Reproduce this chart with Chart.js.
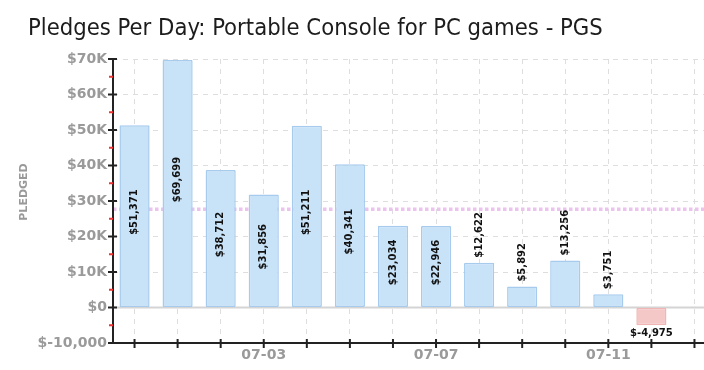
<!DOCTYPE html>
<html>
<head>
<meta charset="utf-8">
<script src="https://cdn.jsdelivr.net/npm/chart.js@4"></script>
<style>
  html, body { margin: 0; padding: 0; background: #fff; overflow: hidden; width: 704px; height: 370px; }
  #wrap { width: 716px; height: 370px; }
</style>
</head>
<body>
<div id="wrap"><canvas id="chart" width="716" height="370"></canvas></div>
<script>
// Pledges per day
const days = ['06-30', '07-01', '07-02', '07-03', '07-04', '07-05', '07-06',
              '07-07', '07-08', '07-09', '07-10', '07-11', '07-12', '07-13'];
const pledged = [51371, 69699, 38712, 31856, 51211, 40341, 23034,
                 22946, 12622, 5892, 13256, 3751, -4975, null];
const averagePledged = 27670;
const shownDays = ['07-03', '07-07', '07-11'];
const yTicks = [-10000, 0, 10000, 20000, 30000, 40000, 50000, 60000, 70000];

const titleText = 'Pledges Per Day: Portable Console for PC games - PGS';

function money(v) {
  return '$' + v.toLocaleString('en-US');
}

function yLabel(v) {
  if (v === yTicks[0]) return money(v);
  if (v === 0) return '$0';
  return '$' + (v / 1000) + 'K';
}

// ========== custom drawing: title, axes, avg line, labels ==========
const decorations = {
  id: 'decorations',
  beforeDatasetsDraw(chart) {
    const { ctx, chartArea: a, scales: { y } } = chart;
    ctx.save();
    // zero line
    const y0 = y.getPixelForValue(0);
    ctx.strokeStyle = '#d4d4d4';
    ctx.lineWidth = 2;
    ctx.beginPath();
    ctx.moveTo(a.left, y0);
    ctx.lineTo(a.right, y0);
    ctx.stroke();
    // average line (behind the bars)
    const ya = y.getPixelForValue(averagePledged);
    ctx.strokeStyle = '#ecc3ee';
    ctx.lineWidth = 3.5;
    ctx.setLineDash([3.5, 2.5]);
    ctx.beginPath();
    ctx.moveTo(a.left, ya);
    ctx.lineTo(a.right, ya);
    ctx.stroke();
    ctx.restore();
  },
  afterDatasetsDraw(chart) {
    const { ctx, chartArea: a, scales: { x, y } } = chart;
    ctx.save();

    // title
    ctx.fillStyle = '#1c1c1c';
    ctx.font = '23.6px "DejaVu Sans Condensed", "Liberation Sans Narrow", sans-serif';
    ctx.textAlign = 'left';
    ctx.textBaseline = 'alphabetic';
    ctx.fillText(titleText, 28, 35);

    // y axis title
    ctx.save();
    ctx.translate(24, 192);
    ctx.rotate(-Math.PI / 2);
    ctx.fillStyle = '#999';
    ctx.font = 'bold 11px "DejaVu Sans", sans-serif';
    ctx.textAlign = 'center';
    ctx.textBaseline = 'middle';
    ctx.fillText('PLEDGED', 0, 0);
    ctx.restore();

    // axis lines
    ctx.strokeStyle = '#222';
    ctx.lineWidth = 2;
    ctx.beginPath();
    ctx.moveTo(a.left, a.top);
    ctx.lineTo(a.left, a.bottom);
    ctx.lineTo(a.right, a.bottom);
    ctx.stroke();

    // y ticks: black majors crossing the axis, red minors outside
    ctx.lineWidth = 2;
    yTicks.forEach(v => {
      const py = y.getPixelForValue(v);
      ctx.strokeStyle = '#222';
      ctx.beginPath();
      ctx.moveTo(a.left - 5, py);
      ctx.lineTo(a.left + 4, py);
      ctx.stroke();
      if (v < yTicks[yTicks.length - 1]) {
        const pm = y.getPixelForValue(v + 5000);
        ctx.strokeStyle = '#e33';
        ctx.beginPath();
        ctx.moveTo(a.left - 4, pm);
        ctx.lineTo(a.left, pm);
        ctx.stroke();
      }
    });

    // x ticks
    ctx.strokeStyle = '#222';
    days.forEach((d, i) => {
      const px = x.getPixelForValue(i);
      ctx.beginPath();
      ctx.moveTo(px, a.bottom - 4);
      ctx.lineTo(px, a.bottom + 5);
      ctx.stroke();
    });

    // value labels
    const meta = chart.getDatasetMeta(0);
    ctx.fillStyle = '#111';
    ctx.font = 'bold 10px "DejaVu Sans", sans-serif';
    meta.data.forEach((bar, i) => {
      const v = pledged[i];
      if (v === null) return;
      const text = money(v);
      if (v < 0) {
        ctx.textAlign = 'center';
        ctx.textBaseline = 'middle';
        ctx.fillText(text, bar.x, bar.y + 8);
        return;
      }
      const w = ctx.measureText(text).width;
      const h = bar.base - bar.y;
      ctx.save();
      ctx.textBaseline = 'middle';
      if (h > w + 8) {
        ctx.translate(bar.x, (bar.y + bar.base) / 2 - 4);
        ctx.rotate(-Math.PI / 2);
        ctx.textAlign = 'center';
      } else {
        ctx.translate(bar.x, bar.y - 5);
        ctx.rotate(-Math.PI / 2);
        ctx.textAlign = 'left';
      }
      ctx.fillText(text, 0, 0);
      ctx.restore();
    });

    ctx.restore();
  }
};

new Chart(document.getElementById('chart'), {
  type: 'bar',
  data: {
    labels: days,
    datasets: [{
      data: pledged,
      backgroundColor: pledged.map(v => v < 0 ? '#f5c8c8' : '#c8e2f8'),
      borderColor: pledged.map(v => v < 0 ? '#f0b6b6' : '#a6cbed'),
      borderWidth: 1.5,
      borderRadius: 1,
      borderSkipped: false,
      barPercentage: 0.7,
      categoryPercentage: 1
    }]
  },
  options: {
    responsive: false,
    animation: false,
    devicePixelRatio: 1,
    layout: { padding: { top: 59, left: 0, right: 0, bottom: 0 } },
    plugins: {
      legend: { display: false },
      tooltip: { enabled: false },
      title: { display: false }
    },
    scales: {
      x: {
        offset: true,
        grid: { offset: false, color: '#dedede', lineWidth: 1, drawTicks: false },
        border: { display: false, dash: [5, 5] },
        ticks: {
          autoSkip: false,
          maxRotation: 0,
          padding: 4,
          color: '#9a9a9a',
          font: { family: '"DejaVu Sans", sans-serif', size: 14, weight: 'bold' },
          callback: (v, i) => shownDays.includes(days[i]) ? days[i] : ''
        },
        afterFit: s => { s.height = 27; }
      },
      y: {
        min: yTicks[0],
        max: yTicks[yTicks.length - 1],
        grid: { color: '#dedede', lineWidth: 1, drawTicks: false },
        border: { display: false, dash: [5, 5] },
        ticks: {
          stepSize: 10000,
          padding: 6,
          color: '#9a9a9a',
          font: { family: '"DejaVu Sans", sans-serif', size: 14, weight: 'bold' },
          callback: v => yLabel(v)
        },
        afterFit: s => { s.width = 113; }
      }
    }
  },
  plugins: [decorations]
});
</script>
</body>
</html>
